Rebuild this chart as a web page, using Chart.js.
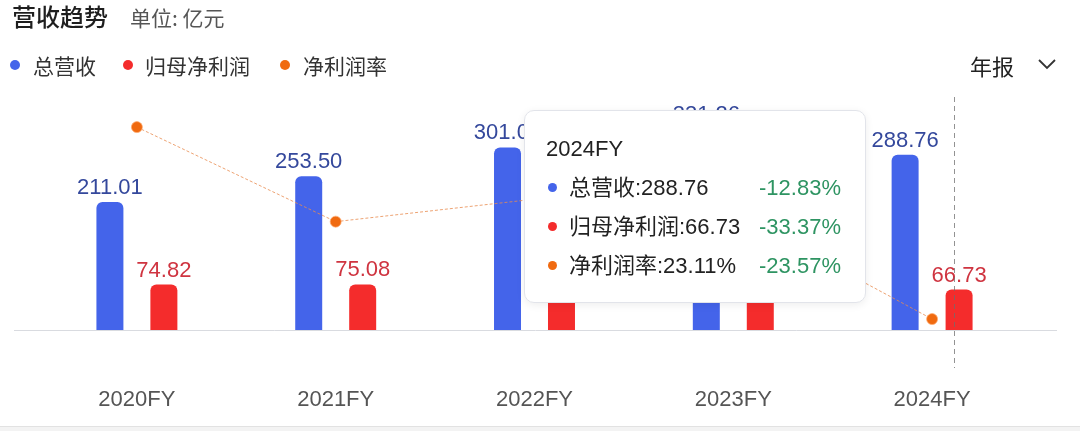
<!DOCTYPE html>
<html>
<head>
<meta charset="utf-8">
<script src="https://cdn.jsdelivr.net/npm/chart.js@4.4.1/dist/chart.umd.min.js"></script>
<style>
html,body{margin:0;padding:0;background:#fff;}
#wrap{position:relative;width:1080px;height:431px;overflow:hidden;background:#fff;}
#bottomStrip{position:absolute;left:0;top:426px;width:1080px;height:5px;background:#f3f3f3;border-top:1px solid #e2e2e2;}
canvas{position:absolute;left:0;top:0;}
.cjk{font-family:"Noto Sans CJK SC","Liberation Sans",sans-serif;}
#title{position:absolute;left:12px;top:1px;font-size:24px;line-height:30px;color:#1e1e1e;font-weight:500;}
#unit{position:absolute;left:130px;top:3px;font-size:21px;line-height:28px;color:#555;}
.lg{position:absolute;top:52px;font-size:21px;line-height:26px;color:#333;}
.dot{position:absolute;width:10px;height:10px;border-radius:50%;}
#period{position:absolute;left:970px;top:51px;font-size:22px;line-height:28px;color:#222;}
#chev{position:absolute;left:1036px;top:57px;}
#tip{position:absolute;left:524px;top:110px;width:340px;height:191px;border:1px solid #e2e4ea;border-radius:10px;background:#fff;box-shadow:0 2px 8px rgba(0,0,0,0.07);font-family:"Liberation Sans","Noto Sans CJK SC",sans-serif;}
#tip .hd{position:absolute;left:21px;top:24px;font-size:22px;line-height:28px;color:#222;}
#tip .row{position:absolute;left:0;width:340px;height:28px;font-size:22px;line-height:28px;color:#222;}
#tip .row .d{position:absolute;left:23px;top:9px;width:9px;height:9px;border-radius:50%;}
#tip .row .t{position:absolute;left:44px;top:0;}
#tip .row .p{position:absolute;right:24px;top:0;color:#2e9462;}
</style>
</head>
<body>
<div id="wrap">
  <canvas id="c" width="1080" height="431"></canvas>
  <div id="title" class="cjk">营收趋势</div>
  <div id="unit" class="cjk">单位: 亿元</div>
  <div id="legend"></div>
  <div id="period" class="cjk">年报</div>
  <svg id="chev" width="22" height="14" viewBox="0 0 22 14"><polyline points="3,3 11,11 19,3" fill="none" stroke="#333" stroke-width="1.8"/></svg>
  <div id="tip"></div>
  <div id="bottomStrip"></div>
</div>
<script>
// ---- data ----
const categories = ['2020FY', '2021FY', '2022FY', '2023FY', '2024FY'];
const revenue = [211.01, 253.50, 301.07, 331.26, 288.76];          // 总营收 (亿元)
const netProfit = [74.82, 75.08, 93.6, 100.15, 66.73];            // 归母净利润 (亿元)
const netMargin = [35.9, 29.6, 31.1, 30.24, 23.11];               // 净利润率 (%)
const seriesNames = ['总营收', '归母净利润', '净利润率'];
const tipIndex = 4;
const tipChanges = ['-12.83%', '-33.37%', '-23.57%'];

const colors = {
  revenue: '#4464EA',
  profit: '#F42C2C',
  margin: '#F06A10',
  revenueLabel: '#34489C',
  profitLabel: '#CF3440'
};

const baseLine = {
  id: 'baseLine',
  beforeDatasetsDraw(chart) {
    const ctx = chart.ctx, y = Math.round(chart.scales.y.getPixelForValue(0)) + 0.5;
    ctx.save();
    ctx.strokeStyle = '#d9dbe0';
    ctx.lineWidth = 1;
    ctx.beginPath();
    ctx.moveTo(14, y);
    ctx.lineTo(1057, y);
    ctx.stroke();
    ctx.restore();
  }
};

const crossHair = {
  id: 'crossHair',
  afterDatasetsDraw(chart) {
    const ctx = chart.ctx;
    const x = Math.round(chart.scales.x.getPixelForValue(tipIndex) + 22) + 0.5;
    ctx.save();
    ctx.strokeStyle = 'rgba(110,110,110,0.75)';
    ctx.lineWidth = 1;
    ctx.setLineDash([5, 4]);
    ctx.beginPath();
    ctx.moveTo(x, 97);
    ctx.lineTo(x, 368);
    ctx.stroke();
    ctx.restore();
  }
};

const valueLabels = {
  id: 'valueLabels',
  afterDatasetsDraw(chart) {
    const ctx = chart.ctx;
    chart.data.datasets.forEach((ds, di) => {
      if (ds.type === 'line') return;
      const meta = chart.getDatasetMeta(di);
      meta.data.forEach((bar, i) => {
        ctx.save();
        ctx.font = '22px "Liberation Sans", sans-serif';
        ctx.fillStyle = ds.labelColor;
        ctx.textAlign = 'center';
        ctx.textBaseline = 'alphabetic';
        ctx.fillText(ds.data[i].toFixed(2), bar.x, bar.y - 8);
        ctx.restore();
      });
    });
  }
};

const chart = new Chart(document.getElementById('c'), {
  type: 'bar',
  data: {
    labels: categories,
    datasets: [
      {
        type: 'line', label: seriesNames[2], data: netMargin, yAxisID: 'y1', order: 0,
        borderColor: 'rgba(232,140,80,0.8)', borderWidth: 1, borderDash: [3, 2],
        pointRadius: 5.5, pointBackgroundColor: colors.margin,
        pointBorderColor: 'rgba(255,170,110,0.7)', pointBorderWidth: 1,
        tension: 0, fill: false
      },
      {
        label: seriesNames[0], data: revenue, yAxisID: 'y', order: 1,
        backgroundColor: colors.revenue, labelColor: colors.revenueLabel,
        borderRadius: { topLeft: 6, topRight: 6, bottomLeft: 0, bottomRight: 0 }, borderSkipped: false,
        barPercentage: 0.5, categoryPercentage: 0.543
      },
      {
        label: seriesNames[1], data: netProfit, yAxisID: 'y', order: 1,
        backgroundColor: colors.profit, labelColor: colors.profitLabel,
        borderRadius: { topLeft: 6, topRight: 6, bottomLeft: 0, bottomRight: 0 }, borderSkipped: false,
        barPercentage: 0.5, categoryPercentage: 0.543
      }
    ]
  },
  options: {
    responsive: false,
    animation: false,
    events: [],
    layout: { padding: { left: 37.5, right: 48.5, top: 99.5, bottom: 20 } },
    plugins: { legend: { display: false }, tooltip: { enabled: false } },
    scales: {
      x: {
        offset: true,
        grid: { display: false, drawTicks: false },
        border: { display: false },
        ticks: { padding: 57, color: '#555', font: { family: '"Liberation Sans", sans-serif', size: 22 } },
        afterFit(scale) { scale.height = 81; }
      },
      y: { display: false, min: 0, max: 380 },
      y1: { display: false, min: 22.38, max: 37.74, position: 'right' }
    }
  },
  plugins: [baseLine, valueLabels, crossHair]
});

// legend (HTML)
const legendPos = [{ dot: 10, text: 33 }, { dot: 123, text: 145 }, { dot: 280, text: 303 }];
const legendColors = [colors.revenue, colors.profit, colors.margin];
const lg = document.getElementById('legend');
seriesNames.forEach((n, i) => {
  const d = document.createElement('div');
  d.className = 'dot';
  d.style.left = legendPos[i].dot + 'px';
  d.style.top = '60px';
  d.style.background = legendColors[i];
  lg.appendChild(d);
  const t = document.createElement('div');
  t.className = 'lg cjk';
  t.style.left = legendPos[i].text + 'px';
  t.textContent = n;
  lg.appendChild(t);
});

// static tooltip (HTML)
const tip = document.getElementById('tip');
const hd = document.createElement('div');
hd.className = 'hd';
hd.textContent = categories[tipIndex];
tip.appendChild(hd);
const tipVals = [revenue[tipIndex].toFixed(2), netProfit[tipIndex].toFixed(2), netMargin[tipIndex].toFixed(2) + '%'];
seriesNames.forEach((n, i) => {
  const r = document.createElement('div');
  r.className = 'row';
  r.style.top = (63 + i * 39) + 'px';
  r.innerHTML = '<div class="d" style="background:' + legendColors[i] + '"></div>' +
    '<div class="t"></div><div class="p"></div>';
  r.querySelector('.t').textContent = n + ':' + tipVals[i];
  r.querySelector('.p').textContent = tipChanges[i];
  tip.appendChild(r);
});
</script>
</body>
</html>
